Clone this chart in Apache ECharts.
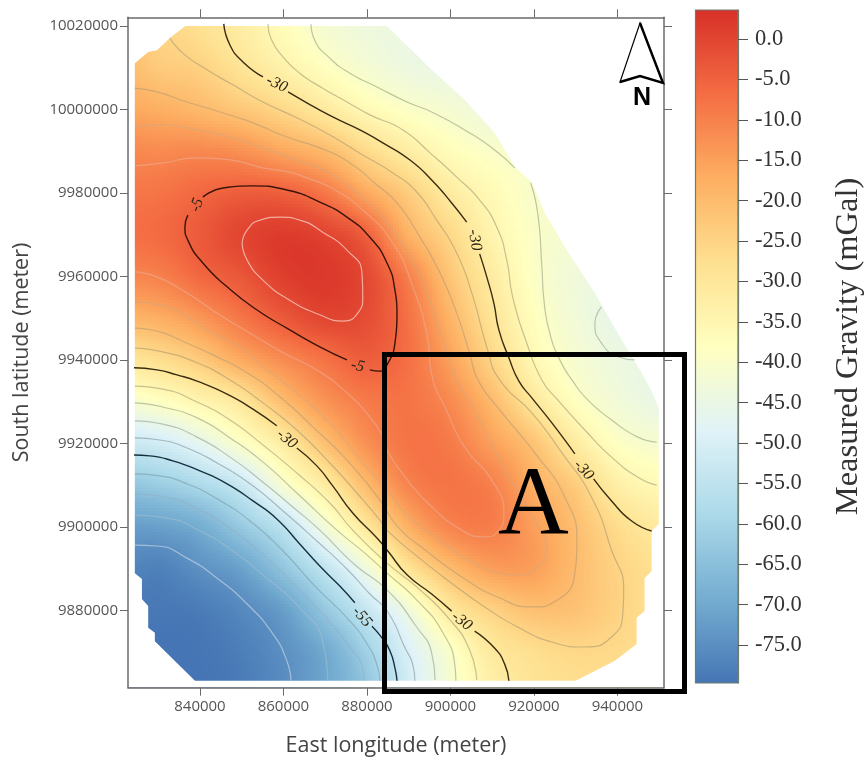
<!DOCTYPE html>
<html><head><meta charset="utf-8">
<style>html,body{margin:0;padding:0;background:#fff}#c{width:864px;height:762px}</style>
<script src="https://cdn.jsdelivr.net/npm/echarts@6/dist/echarts.min.js"></script>
</head><body><div id="c"></div>
<script>
// ---- axis ticks (metres) ----
const xTicks=[840000,860000,880000,900000,920000,940000];
const yTicks=[9880000,9900000,9920000,9940000,9960000,9980000,10000000,10020000];
const barTicks=[0,-5,-10,-15,-20,-25,-30,-35,-40,-45,-50,-55,-60,-65,-70,-75];
// ---- gravity readings (mGal) on a 10 km lattice; columns are gridEast (km), rows gridNorth (km) ----
const gridEast=[820,830,840,850,860,870,880,890,900,910,920,930,940,950];
const gridNorth=[10020,10010,10000,9990,9980,9970,9960,9950,9940,9930,9920,9910,9900,9890,9880,9870,9860];
const r10020=[-22,-25,-28,-32,-37,-41.5,-43.5,-44.5,-45,-45,-45,-45,-45,-45];
const r10010=[-19,-23,-24.5,-29,-33.5,-38,-41.5,-44,-45,-45.5,-45.5,-45.5,-45.5,-45.5];
const r10000=[-16,-17.5,-19.5,-22.5,-26,-31,-36,-39.3,-41.5,-44,-45,-45,-45,-45];
const r9990=[-11,-11.6,-11.2,-12.6,-16.1,-19.7,-26.4,-32,-37,-39.7,-41,-42,-43,-44];
const r9980=[-8.5,-8,-6,-4.4,-4.8,-8.7,-16.6,-23.7,-31.4,-36.3,-40.2,-41.5,-43,-44];
const r9970=[-7.5,-6.5,-3.7,-0.1,1.5,0,-4.8,-18,-26,-34.3,-39.4,-42,-44,-45];
const r9960=[-11,-10,-6,-3,1,2,-0.7,-9.8,-22,-31.5,-39,-43,-45,-46];
const r9950=[-19,-17.4,-13.6,-8.3,-3.5,-0.2,-1.4,-7.5,-18.5,-29,-37.5,-42.5,-45.5,-46];
const r9940=[-30,-27.4,-23,-16.5,-11.5,-7.5,-4.2,-7.3,-15.2,-25.5,-35.3,-41,-44,-45.5];
const r9930=[-41.5,-38.5,-34.6,-29.8,-20.2,-13,-9,-8,-11.5,-19.8,-30,-38,-42.5,-45];
const r9920=[-53,-51.3,-46.5,-39.3,-31.5,-21,-12.5,-8,-9,-15,-21.5,-31.3,-38.5,-41];
const r9910=[-64,-62,-58.5,-53,-41,-31.7,-20,-10.5,-8,-10,-17.5,-23.5,-32.5,-36];
const r9900=[-72,-71.5,-69,-62.5,-55,-42,-30,-17.8,-10.5,-9.5,-14.7,-20.5,-27,-31];
const r9890=[-76,-77.5,-74.5,-71.3,-63.6,-54.4,-43.3,-29,-20,-14.7,-14.8,-20,-25,-28];
const r9880=[-79,-79,-78.5,-76,-72,-63,-53.8,-43.2,-30.5,-24.7,-21,-21.5,-24.8,-28];
const r9870=[-80,-80,-79.5,-78,-74.7,-69.8,-61,-49.6,-39.8,-30.8,-27.5,-26,-26.5,-28];
const r9860=[-80,-80,-79.8,-78.5,-75.5,-70.5,-64,-51.5,-41,-33,-29,-27.5,-27.5,-28];
// ---- survey outline (km east, km north) ----
const surveyOutline=[[824.4,10011.1],[827.6,10013.8],[829.7,10014.2],[832.8,10017.1],[837.1,10020.5],[884.3,10020.5],[895.5,10009.5],[903.4,10002.3],[910.6,9994.4],[915.4,9986.2],[919.5,9982.6],[922.6,9975.2],[928.3,9965.6],[934.6,9956.0],[941.0,9944.8],[945.8,9936.9],[948.2,9932.5],[949.9,9928.5],[949.9,9900.7],[948.2,9899.0],[948.2,9889.4],[946.5,9887.7],[946.5,9879.8],[944.6,9878.2],[944.6,9871.9],[939.4,9867.9],[930.7,9863.5],[929.8,9863.1],[838.8,9863.1],[829.2,9872.6],[829.2,9874.6],[827.6,9875.8],[827.6,9881.0],[826.1,9882.7],[826.1,9887.5],[824.4,9888.9]];
// ---- contours (km east, km north) ----
const c0=[[850.1,9968.0],[851.3,9971.1],[854.4,9973.5],[859.2,9974.2],[863.9,9973.5],[869.4,9970.6],[875.2,9966.3],[878.8,9960.8],[879.0,9955.1],[877.8,9951.2],[874.2,9949.3],[868.7,9950.8],[861.5,9954.3],[855.1,9959.1],[851.3,9963.9],[850.1,9968.0]];
const c5a=[[840.7,9979.0],[845.5,9981.2],[852.7,9981.7],[860.8,9980.7],[868.7,9977.8],[875.2,9974.2],[880.7,9969.4],[884.8,9963.2],[886.7,9956.7],[887.2,9951.2],[886.7,9944.0],[884.8,9938.8],[883.1,9937.3],[880.7,9937.6]];
const c5b=[[875.2,9940.0],[868.7,9943.1],[860.8,9947.6],[853.6,9952.0],[846.5,9957.5],[840.7,9963.2],[837.1,9968.7],[836.4,9971.8],[837.1,9974.7]];
const c10=[[824.4,9986.5],[831.1,9987.2],[839.3,9988.4],[847.2,9987.9],[855.1,9986.0],[861.5,9985.0],[865.6,9983.6],[871.1,9981.4],[879.0,9975.9],[886.2,9968.0],[891.0,9957.5],[894.3,9946.4],[895.8,9935.2],[898.7,9928.7],[903.4,9919.1],[909.9,9911.2],[912.8,9903.3],[911.3,9898.8],[908.2,9897.6],[902.7,9899.2],[894.6,9905.7],[888.4,9912.9],[884.8,9918.4],[883.8,9921.5],[880.7,9926.3],[875.2,9932.1],[868.0,9937.6],[859.9,9941.7],[852.0,9946.4],[844.1,9951.2],[836.9,9956.0],[829.7,9959.9],[824.4,9961.1]];
const c15=[[824.4,9995.8],[831.1,9996.3],[839.3,9995.1],[847.2,9993.4],[855.1,9990.8],[863.2,9987.9],[871.1,9984.8],[877.6,9980.0],[884.8,9972.8],[890.3,9964.7],[894.3,9956.0],[898.2,9944.8],[901.8,9934.7],[905.8,9928.0],[913.0,9913.6],[920.2,9901.6],[923.1,9894.4],[920.9,9890.4],[916.1,9888.5],[910.6,9889.2],[904.2,9892.1],[896.3,9897.6],[889.1,9903.3],[884.8,9908.8],[879.0,9915.3],[871.1,9924.9],[863.2,9932.1],[855.1,9938.3],[849.6,9943.1],[843.1,9946.4],[836.9,9950.3],[830.4,9953.2],[824.4,9953.9]];
const c20=[[824.4,10005.1],[829.7,10004.2],[836.9,10001.8],[844.8,9999.4],[852.7,9996.8],[860.8,9993.4],[868.7,9990.8],[875.9,9987.2],[882.4,9981.9],[887.2,9977.6],[892.7,9969.4],[897.5,9960.8],[901.5,9951.2],[904.6,9941.6],[906.6,9935.2],[911.8,9928.0],[920.2,9917.7],[927.4,9907.1],[930.3,9896.1],[929.8,9888.9],[925.7,9882.5],[919.5,9880.8],[911.3,9883.2],[902.7,9888.0],[893.9,9894.5],[887.4,9900.0],[883.1,9906.4],[875.2,9916.0],[867.1,9923.9],[859.2,9931.1],[851.3,9936.9],[843.1,9941.2],[836.9,9944.0],[830.4,9946.7],[824.4,9947.6]];
const c25=[[832.8,10017.1],[835.9,10013.5],[841.7,10009.5],[847.9,10005.9],[855.1,10001.8],[863.2,9998.0],[871.1,9993.9],[879.0,9989.1],[886.2,9984.8],[891.5,9980.7],[896.7,9973.5],[901.5,9965.6],[905.4,9955.1],[908.7,9943.1],[911.8,9935.2],[919.5,9927.3],[926.7,9917.7],[933.8,9907.1],[938.6,9894.4],[941.5,9884.9],[941.3,9879.4],[938.6,9873.6],[932.2,9871.2],[924.3,9872.4],[916.1,9876.0],[908.2,9880.8],[900.3,9886.5],[892.2,9892.8],[884.8,9899.2],[883.1,9901.6],[877.6,9908.1],[871.1,9915.3],[863.2,9923.2],[855.1,9929.7],[847.2,9935.2],[839.3,9939.3],[831.1,9941.9],[824.4,9942.8]];
const c30a=[[845.7,10020.5],[847.2,10015.4],[850.3,10011.4],[855.1,10007.8]];
const c30b=[[861.1,10004.2],[865.6,10001.6],[871.8,9998.2],[878.3,9995.1],[883.8,9992.0],[890.3,9987.9],[895.5,9983.1],[900.3,9977.6],[903.9,9973.0]];
const c30c=[[907.0,9965.4],[908.7,9959.9],[910.4,9953.6],[911.6,9947.2],[914.0,9940.5],[916.4,9934.9],[919.5,9930.9],[924.3,9924.9],[929.8,9917.5]];
const c30d=[[934.3,9911.5],[938.6,9906.2],[943.4,9901.4],[948.2,9899.0]];
const c30e=[[824.2,9938.1],[829.7,9937.6],[834.5,9936.4],[839.3,9934.9],[846.5,9931.8],[852.7,9928.2],[858.4,9924.2]];
const c30f=[[863.2,9918.9],[868.0,9914.6],[871.8,9909.8],[876.6,9903.3],[882.4,9897.3],[885.0,9894.2],[889.6,9888.5],[895.5,9883.9],[900.3,9879.8]];
const c30g=[[905.8,9875.0],[910.6,9870.9],[913.0,9867.1],[914.0,9863.1]];
const c35a=[[856.3,10020.5],[857.2,10016.6],[859.9,10012.6],[863.9,10008.7],[869.4,10005.1],[875.2,10001.8],[880.7,9998.7],[888.6,9995.1],[895.1,9989.6],[901.5,9983.8],[907.0,9978.3],[911.1,9971.8],[913.5,9963.9],[914.9,9955.1],[918.3,9944.0],[921.9,9935.2],[925.7,9930.4],[932.2,9923.2],[938.6,9916.7],[944.9,9911.9],[949.4,9910.0]];
const c35b=[[824.4,9933.7],[831.1,9933.0],[839.3,9929.9],[847.2,9925.6],[855.1,9919.6],[863.2,9912.9],[871.1,9905.7],[876.6,9899.2],[884.8,9891.3],[891.9,9885.6],[899.9,9877.7],[904.6,9870.5],[906.3,9863.3]];
const c40a=[[866.6,10020.5],[867.5,10016.6],[871.1,10012.3],[875.9,10008.7],[882.4,10005.4],[889.6,10001.8],[895.5,9999.4],[903.4,9995.1],[910.6,9990.3],[915.4,9986.0]];
const c40b=[[919.2,9982.4],[920.9,9975.2],[921.9,9962.3],[922.4,9954.3],[923.8,9946.4],[926.2,9940.0],[929.1,9935.2],[932.9,9930.4],[938.6,9925.6],[944.9,9921.5],[949.4,9920.3]];
const c40c=[[824.4,9929.7],[831.1,9928.7],[839.3,9926.1],[847.2,9921.3],[855.1,9915.5],[863.2,9908.1],[872.8,9899.2],[879.5,9893.7],[884.8,9888.9],[891.9,9882.5],[898.2,9874.6],[901.1,9866.4],[901.3,9863.1]];
const c45a=[[824.4,9925.4],[831.1,9924.6],[839.3,9921.5],[847.2,9916.7],[855.1,9910.7],[862.3,9904.7],[868.7,9899.2],[877.1,9890.9],[884.8,9884.9],[891.9,9876.0],[895.5,9869.8],[896.3,9863.3]];
const c45b=[[936.2,9952.7],[934.6,9948.8],[936.2,9944.0],[940.3,9940.7],[944.1,9940.0]];
const c50=[[824.4,9921.3],[830.4,9920.8],[836.9,9918.9],[844.1,9915.3],[852.0,9910.3],[859.9,9903.8],[868.0,9896.6],[875.2,9889.9],[880.7,9883.9],[885.0,9879.6],[889.1,9871.0],[891.0,9866.9],[891.5,9863.1]];
const c55a=[[824.2,9917.2],[828.0,9917.0],[833.5,9915.8],[840.0,9913.4],[846.5,9910.3],[852.7,9906.2],[858.4,9901.9],[863.9,9895.9],[868.7,9890.6],[873.5,9885.8],[877.1,9881.8]];
const c55b=[[881.2,9876.2],[883.6,9873.4],[885.5,9870.3],[886.7,9866.2],[887.2,9863.1]];
const c60=[[824.4,9912.7],[830.4,9912.2],[836.9,9910.3],[844.1,9906.7],[852.0,9901.4],[859.9,9894.2],[868.0,9885.3],[875.2,9878.2],[880.0,9872.0],[882.6,9866.2],[883.1,9863.1]];
const c65=[[824.4,9907.9],[831.6,9907.2],[840,9904.0],[847.9,9899.2],[856.0,9892.5],[863.9,9884.9],[871.1,9877.2],[876.4,9870.5],[878.8,9866.9],[879.3,9863.1]];
const c70=[[824.4,9902.8],[832.1,9902.1],[840,9899.0],[847.9,9894.2],[856.0,9887.7],[863.9,9880.6],[869.4,9872.6],[870.6,9863.1]];
const c75=[[824.4,9895.6],[829.7,9895.4],[836.9,9892.5],[844.1,9887.7],[851.3,9881.5],[857.5,9874.3],[860.8,9867.9],[861.8,9863.1]];
// ---- contour labels ----
const labelTexts=['-30','-30','-30','-30','-30','-5','-5','-55'];
const labelPlaces=[[858.4,10006.1],[905.8,9968.7],[931.9,9913.6],[860.8,9921.0],[902.7,9877.4],[839.3,9977.1],[877.8,9938.5],[878.8,9878.4]];
const labelTurns=[-25,-80,-47,-40,-38,70,-12,-50];
// ---- palette ----
const palette=['#4575b4','#74add1','#abd9e9','#e0f3f8','#ffffbf','#fee090','#fdae61','#f46d43','#d73027'];

// ---------- build ----------
const xMin=822763,xMax=951157,yMin=9861452,yMax=10022085;
const barMin=-79.7,barMax=3.6;
const gridValues=[r10020,r10010,r10000,r9990,r9980,r9970,r9960,r9950,r9940,r9930,r9920,r9910,r9900,r9890,r9880,r9870,r9860];
const contourSets=[[0,c0],[-5,c5a],[-5,c5b],[-10,c10],[-15,c15],[-20,c20],[-25,c25],[-30,c30a],[-30,c30b],[-30,c30c],[-30,c30d],[-30,c30e],[-30,c30f],[-30,c30g],[-35,c35a],[-35,c35b],[-40,c40a],[-40,c40b],[-40,c40c],[-45,c45a],[-45,c45b],[-50,c50],[-55,c55a],[-55,c55b],[-60,c60],[-65,c65],[-70,c70],[-75,c75]];
const levelColor={'0':'rgba(250,215,205,.7)','-5':'#3a1408','-10':'rgba(235,175,150,.6)','-15':'rgba(205,170,130,.55)','-20':'rgba(170,150,115,.5)','-25':'rgba(145,135,105,.45)','-30':'#3a2c10','-35':'rgba(120,120,90,.42)','-40':'rgba(110,120,100,.42)','-45':'rgba(110,125,115,.42)','-50':'rgba(100,120,125,.45)','-55':'#16303f','-60':'rgba(110,135,150,.45)','-65':'rgba(150,170,185,.45)','-70':'rgba(170,190,205,.55)','-75':'rgba(195,210,225,.7)'};
function hex(c){return [parseInt(c.slice(1,3),16),parseInt(c.slice(3,5),16),parseInt(c.slice(5,7),16)];}
const palRGB=palette.map(hex);
function colorOf(v){
  let t=(v-barMin)/(barMax-barMin)*(palRGB.length-1);
  t=Math.max(0,Math.min(palRGB.length-1.0001,t));
  const i=Math.floor(t),f=t-i,a=palRGB[i],b=palRGB[i+1];
  return 'rgb('+Math.round(a[0]+(b[0]-a[0])*f)+','+Math.round(a[1]+(b[1]-a[1])*f)+','+Math.round(a[2]+(b[2]-a[2])*f)+')';
}
function cr(p0,p1,p2,p3,t){return .5*((2*p1)+(-p0+p2)*t+(2*p0-5*p1+4*p2-p3)*t*t+(-p0+3*p1-3*p2+p3)*t*t*t);}
function at(r,c){r=Math.max(0,Math.min(gridValues.length-1,r));c=Math.max(0,Math.min(gridEast.length-1,c));return gridValues[r][c];}
function shade(c,r,u,v){
  const row=k=>cr(at(k,c-1),at(k,c),at(k,c+1),at(k,c+2),u);
  return cr(row(r-1),row(r),row(r+1),row(r+2),v);
}
const cells=[];
for(let r=0;r<gridNorth.length-1;r++)for(let c=0;c<gridEast.length-1;c++)cells.push([gridEast[c]*1000,gridNorth[r]*1000,c,r]);
const SUB=14;
function renderCell(params,api){
  const c=api.value(2),r=api.value(3),kids=[];
  const x0=gridEast[c]*1000,x1=gridEast[c+1]*1000,y0=gridNorth[r]*1000,y1=gridNorth[r+1]*1000;
  for(let i=0;i<SUB;i++)for(let j=0;j<SUB;j++){
    const a=api.coord([x0+(x1-x0)*i/SUB,y0+(y1-y0)*j/SUB]);
    const b=api.coord([x0+(x1-x0)*(i+1)/SUB,y0+(y1-y0)*(j+1)/SUB]);
    const L=Math.floor(a[0]),T=Math.floor(a[1]);
    kids.push({type:'rect',shape:{x:L,y:T,width:Math.ceil(b[0])-L,height:Math.ceil(b[1])-T},
      style:{fill:colorOf(shade(c,r,(i+.5)/SUB,(j+.5)/SUB))},silent:true});
  }
  return {type:'group',children:kids,silent:true};
}
function renderMask(params,api){
  const outer=[[xMin,yMax],[xMax,yMax],[xMax,yMin],[xMin,yMin],[xMin,yMax]];
  const inner=surveyOutline.concat([surveyOutline[0]]).slice().reverse().map(p=>[p[0]*1000,p[1]*1000]);
  const pts=outer.concat(inner,[[xMin,yMax]]).map(p=>api.coord(p));
  return {type:'polygon',shape:{points:pts},style:{fill:'#fff'},silent:true};
}
function renderBar(params,api){
  const a=api.coord([0,barMax]),b=api.coord([1,barMin]);
  const stops=palette.map((col,i)=>({offset:1-i/(palette.length-1),color:col}));
  return {type:'rect',shape:{x:a[0],y:a[1],width:b[0]-a[0],height:b[1]-a[1]},
    style:{fill:new echarts.graphic.LinearGradient(0,0,0,1,stops),stroke:'#6f7c70',lineWidth:1.2},silent:true};
}
function renderLabel(params,api){
  const i=api.value(2),p=api.coord([api.value(0),api.value(1)]);
  return {type:'text',x:p[0],y:p[1],rotation:labelTurns[i]*Math.PI/180,
    style:{text:labelTexts[i],x:0,y:0,align:'center',verticalAlign:'middle',fill:'#2b2515',font:'italic 16px "Liberation Serif"'},silent:true};
}
const lines=contourSets.map(([lv,pts])=>{
  const dark=lv===-5||lv===-30||lv===-55;
  return {type:'line',xAxisIndex:0,yAxisIndex:0,z:4,smooth:.55,showSymbol:false,symbol:'none',silent:true,animation:false,clip:true,
    lineStyle:{color:levelColor[String(lv)],width:dark?1.4:1.2},
    data:pts.map(p=>[p[0]*1000,p[1]*1000])};
});
const axisGray='#6a6a6a',labelGray='#555';
const chart=echarts.init(document.getElementById('c'),null,{renderer:'canvas'});
chart.setOption({
  animation:false,backgroundColor:'#fff',
  grid:[{left:128,top:17.3,width:536,height:670.4,containLabel:false,outerBoundsMode:'none'},
        {left:695.5,top:10,width:42.5,height:673,containLabel:false,outerBoundsMode:'none'}],
  xAxis:[
   {type:'value',gridIndex:0,min:xMin,max:xMax,position:'bottom',z:8,
    name:'East longitude (meter)',nameLocation:'middle',nameGap:47,nameTextStyle:{fontFamily:'Open Sans',fontSize:21.5,color:'#444'},
    axisLine:{onZero:false,lineStyle:{color:axisGray,width:1.5}},
    axisTick:{show:true,length:8,customValues:xTicks,lineStyle:{color:axisGray,width:1}},
    axisLabel:{customValues:xTicks,margin:12,fontFamily:'Open Sans',fontSize:15,color:labelGray,formatter:v=>String(v)},
    splitLine:{show:false}},
   {type:'value',gridIndex:0,min:xMin,max:xMax,position:'top',z:8,
    axisLine:{onZero:false,lineStyle:{color:axisGray,width:1.5}},
    axisTick:{show:true,length:8,customValues:xTicks,lineStyle:{color:axisGray,width:1}},
    axisLabel:{show:false},splitLine:{show:false}},
   {type:'value',gridIndex:1,min:0,max:1,show:false}
  ],
  yAxis:[
   {type:'value',gridIndex:0,min:yMin,max:yMax,position:'left',z:8,
    name:'South latitude (meter)',nameLocation:'middle',nameGap:95,nameRotate:90,nameTextStyle:{fontFamily:'Open Sans',fontSize:21.5,color:'#444'},
    axisLine:{onZero:false,lineStyle:{color:axisGray,width:1.5}},
    axisTick:{show:true,length:8,customValues:yTicks,lineStyle:{color:axisGray,width:1}},
    axisLabel:{customValues:yTicks,margin:10,fontFamily:'Open Sans',fontSize:15,color:labelGray,formatter:v=>String(v)},
    splitLine:{show:false}},
   {type:'value',gridIndex:0,min:yMin,max:yMax,position:'right',z:8,
    axisLine:{onZero:false,lineStyle:{color:axisGray,width:1.5}},
    axisTick:{show:true,length:8,customValues:yTicks,lineStyle:{color:axisGray,width:1}},
    axisLabel:{show:false},splitLine:{show:false}},
   {type:'value',gridIndex:1,min:barMin,max:barMax,position:'right',z:8,
    name:'Measured Gravity (mGal)',nameLocation:'middle',nameGap:94,nameRotate:90,nameTextStyle:{fontFamily:'Liberation Serif',fontSize:32.5,color:'#333'},
    axisLine:{show:true,onZero:false,lineStyle:{color:'#6f7c70',width:1.2}},
    axisTick:{show:true,length:10,customValues:barTicks,lineStyle:{color:'#555',width:1}},
    axisLabel:{customValues:barTicks,margin:17,fontFamily:'Liberation Serif',fontSize:22.5,color:'#333',formatter:v=>v.toFixed(1)},
    splitLine:{show:false}}
  ],
  series:[
   {type:'custom',xAxisIndex:0,yAxisIndex:0,z:1,clip:true,silent:true,renderItem:renderCell,data:cells,encode:{x:0,y:1}},
   {type:'custom',xAxisIndex:0,yAxisIndex:0,z:2,clip:true,silent:true,renderItem:renderMask,data:[[xMin,yMin]],encode:{x:0,y:1}}
  ].concat(lines,[
   {type:'custom',xAxisIndex:0,yAxisIndex:0,z:5,silent:true,renderItem:renderLabel,data:labelPlaces.map((p,i)=>[p[0]*1000,p[1]*1000,i]),encode:{x:0,y:1}},
   {type:'custom',xAxisIndex:2,yAxisIndex:2,z:1,silent:true,renderItem:renderBar,data:[[0,barMin]],encode:{x:0,y:1}}
  ]),
  graphic:[
   {type:'rect',z:50,silent:true,shape:{x:384.5,y:354.5,width:300,height:337},style:{fill:'none',stroke:'#000',lineWidth:5}},
   {type:'text',z:51,silent:true,x:533.5,y:507,style:{text:'A',align:'center',verticalAlign:'middle',fill:'#000',font:'98px "Liberation Serif"'}},
   {type:'polygon',z:50,silent:true,shape:{points:[[640,23],[663,83],[640,76],[620,82]]},style:{fill:'#fff',stroke:'#000',lineWidth:1.2}},
   {type:'polyline',z:51,silent:true,shape:{points:[[640,23],[663,83],[640,76],[620,82]]},style:{fill:'none',stroke:'#000',lineWidth:2.4}},
   {type:'text',z:51,silent:true,x:642,y:98,style:{text:'N',align:'center',verticalAlign:'middle',fill:'#000',font:'bold 25px "Liberation Sans"'}}
  ]
});
</script></body></html>
